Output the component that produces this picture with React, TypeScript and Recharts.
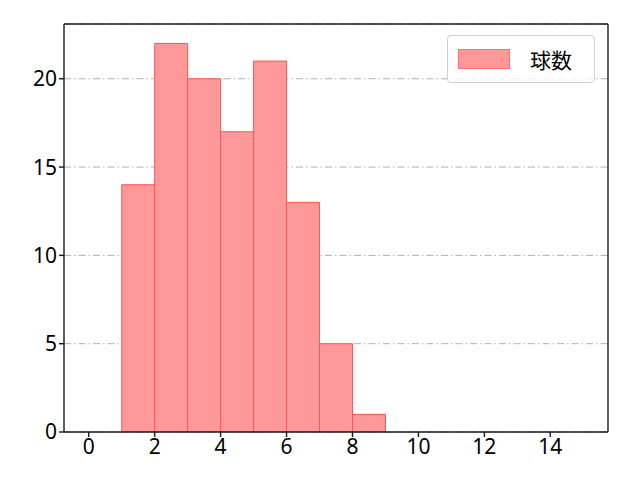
import React from "react";
import {
  Bar,
  CartesianGrid,
  ComposedChart,
  XAxis,
  YAxis,
} from "recharts";

// histogram bins (left edges, width 1) and counts
const binStarts = [1, 2, 3, 4, 5, 6, 7, 8];
const counts = [14, 22, 20, 17, 21, 13, 5, 1];
const seriesName = "球数";

const xTicks = [0, 2, 4, 6, 8, 10, 12, 14];
const yTicks = [0, 5, 10, 15, 20];

const FONT = "'Noto Sans', 'Noto Sans CJK JP', sans-serif";
const AXIS = { stroke: "#1a1a1a", strokeWidth: 1.4 };

const data = binStarts.map((s, i) => ({ x: s + 0.5, count: counts[i] }));

function LegendBox() {
  return (
    <div
      style={{
        position: "absolute",
        left: 447,
        top: 35,
        width: 148,
        height: 48,
        border: "1px solid #d0d0d0",
        borderRadius: 4,
        background: "rgba(255,255,255,0.8)",
        display: "flex",
        alignItems: "center",
        boxSizing: "border-box",
        fontFamily: "'Noto Sans CJK JP', sans-serif",
        fontSize: 21,
        color: "#000",
      }}
    >
      <div
        style={{
          width: 52,
          height: 20,
          marginLeft: 10,
          background: "#ff9999",
          border: "1px solid #ff7070",
          boxSizing: "border-box",
        }}
      />
      <span style={{ marginLeft: 20 }}>{seriesName}</span>
    </div>
  );
}

export default function App() {
  return (
    <div style={{ position: "absolute", left: 0, top: 0, background: "#fff" }}>
      <ComposedChart
        width={640}
        height={480}
        data={data}
        margin={{ top: 23, right: 31, bottom: 0, left: 0 }}
        barCategoryGap={0}
        barGap={0}
        style={{ fontFamily: FONT }}
      >
        <CartesianGrid
          vertical={false}
          stroke="#b0b0b0"
          strokeDasharray="7 3 1.5 3"
        />
        <XAxis
          dataKey="x"
          type="number"
          domain={[-0.75, 15.75]}
          ticks={xTicks}
          allowDataOverflow
          height={48}
          axisLine={AXIS}
          tickLine={AXIS}
          tickSize={5}
          tick={{ fill: "#000", fontSize: 21 }}
        />
        <XAxis
          xAxisId="top"
          orientation="top"
          dataKey="x"
          type="number"
          domain={[-0.75, 15.75]}
          tick={false}
          tickLine={false}
          height={1}
          axisLine={AXIS}
        />
        <YAxis
          type="number"
          domain={[0, 23.1]}
          ticks={yTicks}
          allowDataOverflow
          width={64}
          axisLine={AXIS}
          tickLine={AXIS}
          tickSize={5}
          tick={{ fill: "#000", fontSize: 21 }}
        />
        <YAxis
          yAxisId="right"
          orientation="right"
          domain={[0, 23.1]}
          tick={false}
          tickLine={false}
          width={1}
          axisLine={AXIS}
        />
        <Bar
          dataKey="count"
          name={seriesName}
          fill="#ff9999"
          stroke="#ff5555"
          strokeWidth={1}
          isAnimationActive={false}
        />
      </ComposedChart>
      <LegendBox />
    </div>
  );
}
